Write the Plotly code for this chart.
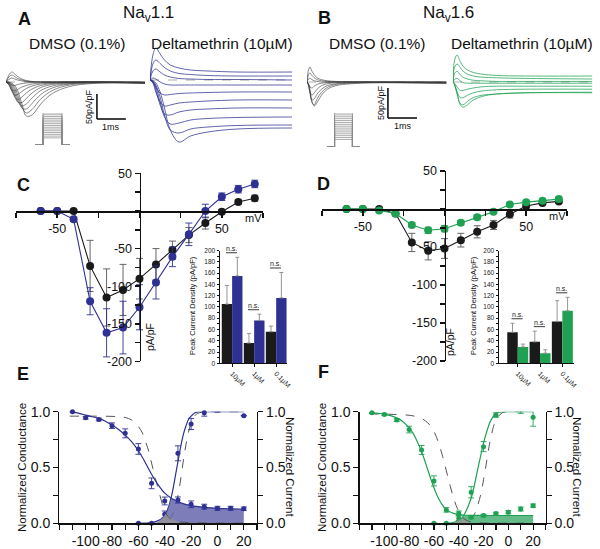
import plotly.graph_objects as go

W, H = 600, 549
FONT = "Liberation Sans, Arial, Helvetica, sans-serif"
BLUE = "#2e3192"
GREEN = "#1fa153"
BLACK = "#1a1a1a"
DASH = "#555555"

# ======================= DATA =======================
# ---- Panel A : Nav1.1 current traces (time ms, current pA/pF)
A_dmso_t = [0, 0.1, 0.2, 0.3, 0.4, 0.55, 0.7, 0.9, 1.2, 1.6, 2.2, 3.0, 4.8]
A_dmso_i = [
    [0, 14, 20, 16, 11, 6, 3, 1, 0, 0, 0, 0, 0],
    [0, 10, 14, 11, 7, 4, 2, 1, 0, 0, 0, 0, 0],
    [0, 5, 8, 6, 4, 2, 1, 0, 0, 0, 0, 0, -1],
    [0, -2, -6, -7, -5, -3, -2, -1, 0, 0, 0, 0, -1],
    [0, -6, -16, -18, -15, -10, -7, -4, -2, -1, 0, 0, -1],
    [0, -5, -18, -26, -25, -19, -13, -8, -4, -2, -1, 0, -1],
    [0, -4, -16, -30, -35, -30, -22, -14, -7, -3, -1, 0, -2],
    [0, -3, -12, -28, -40, -41, -33, -22, -11, -5, -2, -1, -2],
    [0, -2, -9, -22, -38, -48, -44, -32, -17, -8, -3, -1, -2],
    [0, -1, -6, -16, -32, -52, -54, -43, -25, -12, -4, -1, -2],
    [0, -1, -4, -11, -25, -50, -62, -55, -34, -17, -6, -2, -2],
    [0, 0, -2, -7, -17, -44, -68, -66, -44, -23, -9, -3, -2],
]
A_delta_t = [0, 0.1, 0.2, 0.35, 0.5, 0.7, 1.0, 1.4, 2.0, 3.0, 4.9]
A_delta_i = [
    [0, 50, 64, 52, 40, 30, 24, 20, 18, 16, 16],
    [0, 32, 40, 33, 25, 18, 13, 11, 9, 8, 8],
    [0, 18, 22, 16, 10, 6, 3, 2, 1, 1, 0],
    [0, 4, 2, -4, -8, -10, -10, -10, -10, -10, -10],
    [0, -4, -14, -26, -30, -29, -27, -26, -25, -24, -24],
    [0, -6, -24, -44, -52, -50, -46, -44, -42, -40, -40],
    [0, -4, -20, -50, -68, -70, -64, -60, -58, -56, -56],
    [0, -3, -14, -44, -74, -88, -86, -80, -77, -75, -74],
    [0, -2, -10, -34, -70, -100, -106, -98, -94, -91, -90],
    [0, -1, -6, -24, -56, -100, -124, -112, -104, -98, -96],
]
# ---- Panel B : Nav1.6 current traces
B_dmso_t = [0, 0.05, 0.1, 0.17, 0.25, 0.35, 0.5, 0.7, 1.0, 1.5, 2.5, 4.8]
B_dmso_i = [
    [0, 20, 25, 18, 12, 7, 4, 2, 1, 0, 0, 0],
    [0, 12, 15, 11, 7, 4, 2, 1, 0, 0, 0, 0],
    [0, 5, 6, 4, 2, 1, 0, 0, 0, 0, 0, 0],
    [0, -3, -8, -10, -7, -4, -2, -1, 0, 0, 0, -1],
    [0, -5, -16, -22, -18, -12, -6, -3, -1, 0, 0, -1],
    [0, -5, -18, -30, -28, -20, -12, -6, -3, -1, -1, -2],
    [0, -4, -16, -34, -38, -28, -17, -9, -4, -2, -1, -2],
    [0, -3, -12, -32, -40, -34, -22, -12, -6, -3, -1, -2],
]
B_delta_t = [0, 0.05, 0.14, 0.25, 0.35, 0.5, 0.7, 1.0, 1.5, 2.5, 4.8]
B_delta_i = [
    [0, 35, 45, 34, 26, 20, 16, 13, 11, 10, 10],
    [0, 24, 30, 24, 18, 13, 10, 8, 7, 6, 5],
    [0, 14, 18, 12, 8, 5, 3, 2, 1, 1, 1],
    [0, 4, 6, 2, -1, -2, -2, -2, -2, -2, -2],
    [0, -2, -8, -14, -14, -12, -10, -8, -7, -7, -7],
    [0, -4, -16, -26, -26, -22, -18, -15, -13, -12, -12],
    [0, -4, -20, -36, -38, -32, -26, -22, -20, -18, -18],
    [0, -3, -18, -38, -42, -38, -30, -24, -20, -18, -17],
]
# voltage protocol (mV, ms)
proto_hold = -120
proto_steps = [-80, -70, -60, -50, -40, -30, -20, -10, 0, 10, 20, 30, 40, 50, 60]
proto_times = [0, 0.4, 1.35, 1.75]
scale_t, scale_i = 1, 50   # scale bars: 1 ms, 50 pA/pF

# ---- Panels C / D : I-V relations
iv_v = [-60, -50, -40, -30, -20, -10, 0, 10, 20, 30, 40, 50, 60, 70]
C_dmso = [0, 0, 0, -73, -115, -105, -90, -71, -52, -32, -16, -1, 12, 17]
C_dmso_err = [0, 0, 2, 34, 38, 34, 27, 21, 12, 10, 8, 3, 3, 4]
C_delta = [0, 0, -11, -120, -162, -155, -128, -95, -61, -31, 0, 19, 29, 36]
C_delta_err = [0, 0, 3, 18, 32, 35, 30, 22, 13, 15, 9, 5, 5, 5]
D_dmso = [0, 0, 0, -6, -44, -55, -52, -41, -30, -21, -7, 4, 8, 10]
D_dmso_err = [0, 0, 1, 2, 12, 12, 13, 9, 8, 6, 5, 3, 2, 2]
D_delta = [0, 0, -2, -6, -21, -28, -26, -18, -11, -3.5, 6, 9, 11, 13]
D_delta_err = [1, 1, 2, 2, 3, 4, 4, 3, 3, 2, 2, 2, 2, 3]

# insets: peak current density by concentration
conc = ["10µM", "1µM", "0.1µM"]
C_bar_dmso = [105, 36, 56]
C_bar_dmso_err = [33, 17, 10]
C_bar_delta = [155, 76, 116]
C_bar_delta_err = [33, 11, 45]
D_bar_dmso = [55, 38, 74]
D_bar_dmso_err = [16, 19, 37]
D_bar_delta = [29, 18, 93]
D_bar_delta_err = [5, 6, 24]

# ---- Panels E / F : activation & steady-state inactivation
ss_v = [-110, -100, -90, -80, -70, -60, -50, -40, -30, -20, -10, 0, 10, 20]
act_v = [-60, -50, -40, -30, -20, -10, 0, 10, 20]
E_inact = [1.0, 0.946, 0.93, 0.875, 0.806, 0.666, 0.358, 0.2, 0.209, 0.17, 0.149, 0.134, 0.134, 0.131]
E_inact_err = [0.0, 0.012, 0.012, 0.025, 0.04, 0.048, 0.048, 0.035, 0.027, 0.03, 0.022, 0.018, 0.018, 0.015]
E_act = [0.0, 0.0, 0.08, 0.627, 0.89, 0.99, 1.006, 1.02, 0.964]
E_act_err = [0, 0, 0.03, 0.067, 0.05, 0.03, 0.01, 0.01, 0.0]
F_inact = [0.99, 0.976, 0.925, 0.84, 0.657, 0.38, 0.12, 0.09, 0.054, 0.069, 0.087, 0.10, 0.128, 0.158]
F_inact_err = [0.005, 0.01, 0.012, 0.03, 0.04, 0.045, 0.02, 0.02, 0.012, 0.012, 0.012, 0.015, 0.018, 0.015]
F_act = [0.0, 0.0, 0.045, 0.278, 0.687, 0.97, 1.02, 1.015, 0.95]
F_act_err = [0, 0, 0.02, 0.05, 0.045, 0.02, 0.01, 0.03, 0.08]

# fitted curves
E_fi_v = [-112, -105, -100, -95, -90, -85, -80, -75, -70, -65, -60, -55, -50, -45, -40, -35, -30, -25, -20, -10, 0, 10, 20]
E_fi = [1.0, 0.985, 0.97, 0.955, 0.94, 0.915, 0.88, 0.84, 0.79, 0.73, 0.65, 0.55, 0.44, 0.345, 0.27, 0.225, 0.195, 0.172, 0.158, 0.143, 0.134, 0.13, 0.128]
E_ci_v = [-112, -100, -90, -80, -75, -70, -65, -60, -57, -55, -52, -50, -47, -45, -42, -40, -37, -35, -30, -25, -20, 0, 20]
E_ci = [0.96, 0.96, 0.96, 0.958, 0.955, 0.948, 0.925, 0.866, 0.81, 0.746, 0.64, 0.54, 0.40, 0.31, 0.18, 0.11, 0.054, 0.036, 0.015, 0.008, 0.005, 0.002, 0.001]
E_fa_v = [-60, -55, -50, -45, -42, -40, -38, -36, -34, -32, -30, -28, -26, -24, -22, -20, -17, -14, -10, 0, 10, 20]
E_fa = [0.0, 0.002, 0.006, 0.024, 0.045, 0.075, 0.12, 0.19, 0.29, 0.42, 0.55, 0.68, 0.79, 0.87, 0.93, 0.96, 0.99, 1.0, 1.0, 1.0, 1.0, 1.0]
E_ca_v = [-50, -45, -40, -37, -35, -33, -31, -29, -27, -25, -23, -21, -19, -17, -15, -12, -10, 0, 10, 20]
E_ca = [0.0, 0.002, 0.008, 0.03, 0.06, 0.11, 0.19, 0.31, 0.47, 0.63, 0.76, 0.86, 0.93, 0.965, 0.985, 0.995, 1.0, 1.0, 1.0, 1.0]
E_win_v = [-46, -43, -40, -38, -36, -35, -33, -30, -25, -20, -15, -10, 0, 10, 20]
E_win = [0.0, 0.035, 0.075, 0.12, 0.19, 0.22, 0.215, 0.195, 0.172, 0.158, 0.15, 0.143, 0.134, 0.13, 0.128]
E_cwin_v = [-46, -43, -41, -39, -38, -37, -35, -33, -31, -29, -27, -24]
E_cwin = [0.0, 0.03, 0.055, 0.085, 0.085, 0.07, 0.045, 0.03, 0.018, 0.01, 0.005, 0.0]

F_fi_v = [-112, -105, -100, -95, -90, -85, -80, -77, -74, -71, -68, -65, -62, -59, -56, -53, -50, -46, -42, -38, -34, -30, -20, -10, 0, 10, 20]
F_fi = [0.99, 0.985, 0.978, 0.965, 0.945, 0.91, 0.855, 0.81, 0.745, 0.67, 0.58, 0.48, 0.38, 0.29, 0.215, 0.16, 0.125, 0.097, 0.082, 0.075, 0.072, 0.071, 0.07, 0.07, 0.07, 0.07, 0.07]
F_ci_v = [-112, -100, -90, -80, -75, -70, -65, -62, -59, -56, -53, -50, -47, -44, -41, -38, -35, -30, -25, -20, 0, 20]
F_ci = [0.98, 0.978, 0.975, 0.968, 0.958, 0.94, 0.9, 0.86, 0.8, 0.71, 0.6, 0.47, 0.34, 0.22, 0.13, 0.07, 0.035, 0.012, 0.005, 0.002, 0.001, 0.0]
F_fa_v = [-50, -45, -40, -37, -35, -32, -30, -27, -25, -22, -20, -17, -15, -12, -10, -5, 0, 10, 20]
F_fa = [0.0, 0.006, 0.024, 0.054, 0.09, 0.164, 0.224, 0.36, 0.47, 0.62, 0.72, 0.836, 0.9, 0.96, 0.985, 0.998, 1.0, 1.0, 1.0]
F_ca_v = [-45, -40, -35, -30, -27, -25, -22, -20, -18, -15, -12, -10, -5, 0, 10, 20]
F_ca = [0.0, 0.003, 0.012, 0.045, 0.09, 0.15, 0.27, 0.39, 0.52, 0.72, 0.866, 0.925, 0.99, 1.0, 1.0, 1.0]
F_win_v = [-42, -40, -38, -36, -34, -30, -20, -10, 0, 10, 20]
F_win = [0.0, 0.024, 0.045, 0.065, 0.072, 0.072, 0.072, 0.073, 0.074, 0.075, 0.075]
F_cwin_v = [-46, -43, -41, -39, -37, -35, -33, -30]
F_cwin = [0.0, 0.01, 0.02, 0.035, 0.04, 0.035, 0.02, 0.0]

# ======================= HELPERS =======================
def dx(a, b):
    return [a / W, b / W]

def dy(top, bottom):
    return [1 - bottom / H, 1 - top / H]

def ax(i):
    return "" if i == 1 else str(i)

fig = go.Figure()
annotations = []
shapes = []

def ann(text, x, y, size, angle=0, bold=False, color="#111111", xanchor="center", yanchor="middle"):
    annotations.append(dict(text=f"<b>{text}</b>" if bold else text, x=x / W, y=1 - y / H,
                            xref="paper", yref="paper", showarrow=False, textangle=angle,
                            xanchor=xanchor, yanchor=yanchor,
                            font=dict(size=size, family=FONT, color=color)))

def line_trace(x, y, i, color, width=0.8, dash=None, shape="spline", yi=None):
    fig.add_trace(go.Scatter(x=x, y=y, mode="lines", hoverinfo="skip", showlegend=False,
                             line=dict(color=color, width=width, dash=dash, shape=shape),
                             xaxis="x" + ax(i), yaxis="y" + ax(yi if yi else i)))

# ======================= PANELS A / B: traces =======================
for row in A_dmso_i:
    line_trace(A_dmso_t, row, 1, "#3a3a3a", width=0.6)
for row in A_delta_i:
    line_trace(A_delta_t, row, 2, BLUE, width=0.75)
for row in B_dmso_i:
    line_trace(B_dmso_t, row, 4, "#3a3a3a", width=0.6)
for row in B_delta_i:
    line_trace(B_delta_t, row, 5, GREEN, width=0.75)

for i in (3, 6):
    for v in proto_steps:
        line_trace([proto_times[0], proto_times[1], proto_times[1], proto_times[2], proto_times[2], proto_times[3]],
                   [proto_hold, proto_hold, v, v, proto_hold, proto_hold], i, "#8a8a8a", width=0.7, shape="linear")

# dashed baselines
for i, t_end in ((1, A_dmso_t[-1]), (2, A_delta_t[-1]), (4, B_dmso_t[-1]), (5, B_delta_t[-1])):
    shapes.append(dict(type="line", xref="x" + ax(i), yref="y" + ax(i), x0=0, x1=t_end, y0=0, y1=0,
                       line=dict(color="#999999", width=0.8, dash="dash"), layer="below"))

# scale bars
for i, t0, i0 in ((1, 3.14, -74), (4, 2.79, -60)):
    shapes.append(dict(type="line", xref="x" + ax(i), yref="y" + ax(i), x0=t0, x1=t0, y0=i0, y1=i0 + scale_i,
                       line=dict(color="#111111", width=1.6)))
    shapes.append(dict(type="line", xref="x" + ax(i), yref="y" + ax(i), x0=t0, x1=t0 + scale_t, y0=i0, y1=i0,
                       line=dict(color="#111111", width=1.6)))

# ======================= PANELS C / D: IV =======================
def iv(i, vals, errs, color):
    fig.add_trace(go.Scatter(x=iv_v, y=vals, mode="lines+markers", showlegend=False, hoverinfo="skip",
                             line=dict(color=color, width=1.1),
                             marker=dict(color=color, size=8),
                             error_y=dict(type="data", array=errs, color=color if color != BLACK else "#555555",
                                          thickness=0.9, width=3.5),
                             cliponaxis=False, xaxis="x" + ax(i), yaxis="y" + ax(i)))

iv(7, C_dmso, C_dmso_err, BLACK)
iv(7, C_delta, C_delta_err, BLUE)
iv(9, D_dmso, D_dmso_err, BLACK)
iv(9, D_delta, D_delta_err, GREEN)

def bars(i, vals, errs, color):
    fig.add_trace(go.Bar(x=[0, 1, 2], y=vals, marker=dict(color=color, line=dict(width=0)),
                         error_y=dict(type="data", array=errs, arrayminus=[0, 0, 0], symmetric=False,
                                      color="#8a8a8a", thickness=0.9, width=2),
                         showlegend=False, hoverinfo="skip", xaxis="x" + ax(i), yaxis="y" + ax(i)))

bars(8, C_bar_dmso, C_bar_dmso_err, BLACK)
bars(8, C_bar_delta, C_bar_delta_err, BLUE)
bars(10, D_bar_dmso, D_bar_dmso_err, BLACK)
bars(10, D_bar_delta, D_bar_delta_err, GREEN)

for i, a, ae, b, be in ((8, C_bar_dmso, C_bar_dmso_err, C_bar_delta, C_bar_delta_err),
                        (10, D_bar_dmso, D_bar_dmso_err, D_bar_delta, D_bar_delta_err)):
    for k in range(3):
        top = max(a[k] + ae[k], b[k] + be[k]) + 8
        shapes.append(dict(type="line", xref="x" + ax(i), yref="y" + ax(i), x0=k - 0.28, x1=k + 0.22,
                           y0=top, y1=top, line=dict(color="#222222", width=0.9)))
        annotations.append(dict(text="n.s.", x=k - 0.03, y=top, xref="x" + ax(i), yref="y" + ax(i),
                                showarrow=False, yanchor="bottom", yshift=-1,
                                font=dict(size=7, family=FONT, color="#222222")))

# ======================= PANELS E / F =======================
def ef(ix, iyl, iyr, color, fillcol, win_v, win, cwin_v, cwin, fi_v, fi, ci_v, ci, fa_v, fa, ca_v, ca,
       inact, inact_err, act, act_err):
    X = "x" + ax(ix)
    fig.add_trace(go.Scatter(x=win_v, y=win, mode="lines", fill="tozeroy", fillcolor=fillcol,
                             line=dict(width=0), hoverinfo="skip", showlegend=False, xaxis=X, yaxis="y" + ax(iyr)))
    fig.add_trace(go.Scatter(x=cwin_v, y=cwin, mode="lines", fill="tozeroy", fillcolor="rgba(150,150,150,0.8)",
                             line=dict(width=0), hoverinfo="skip", showlegend=False, xaxis=X, yaxis="y" + ax(iyr)))
    line_trace(ci_v, ci, ix, DASH, width=1.0, dash="dash", yi=iyr)
    line_trace(ca_v, ca, ix, DASH, width=1.0, dash="dash", yi=iyl)
    line_trace(fi_v, fi, ix, color, width=1.2, yi=iyr)
    line_trace(fa_v, fa, ix, color, width=1.2, yi=iyl)
    fig.add_trace(go.Scatter(x=ss_v, y=inact, mode="markers", marker=dict(color=color, size=5),
                             error_y=dict(type="data", array=inact_err, color=color, thickness=0.9, width=3),
                             cliponaxis=False, hoverinfo="skip", showlegend=False, xaxis=X, yaxis="y" + ax(iyr)))
    fig.add_trace(go.Scatter(x=act_v, y=act, mode="markers", marker=dict(color=color, size=5),
                             error_y=dict(type="data", array=act_err, color=color, thickness=0.9, width=3),
                             cliponaxis=False, hoverinfo="skip", showlegend=False, xaxis=X, yaxis="y" + ax(iyl)))

ef(11, 11, 12, BLUE, "rgba(96,98,170,0.82)", E_win_v, E_win, E_cwin_v, E_cwin, E_fi_v, E_fi, E_ci_v, E_ci,
   E_fa_v, E_fa, E_ca_v, E_ca, E_inact, E_inact_err, E_act, E_act_err)
ef(12, 13, 14, GREEN, "rgba(60,170,105,0.8)", F_win_v, F_win, F_cwin_v, F_cwin, F_fi_v, F_fi, F_ci_v, F_ci,
   F_fa_v, F_fa, F_ca_v, F_ca, F_inact, F_inact_err, F_act, F_act_err)

# ======================= AXES =======================
layout = {}
def hidden(i, xd, yd, xr, yr):
    layout["xaxis" + ax(i)] = dict(domain=dx(*xd), range=xr, visible=False, anchor="y" + ax(i),
                                   fixedrange=True, automargin=False)
    layout["yaxis" + ax(i)] = dict(domain=dy(*yd), range=yr, visible=False, anchor="x" + ax(i),
                                   fixedrange=True, automargin=False)

hidden(1, (6, 145), (40, 150), [0, 4.8], [-136, 84])
hidden(2, (150, 292), (40, 150), [0, 4.9], [-140, 80])
hidden(3, (35, 70), (113, 145), [0, 1.75], [-120, 60])
hidden(4, (307, 448), (40, 150), [0, 4.86], [-113.3, 70])
hidden(5, (453, 593), (40, 150), [0, 4.83], [-113.3, 70])
hidden(6, (327, 360), (113, 147), [0, 1.75], [-120, 60])

axcol = "#111111"
iv_x_ticks = [-75, -50, -25, 0, 25, 50, 75]
iv_x_text = ["", "-50", "", "", "", "50", ""]
iv_y_ticks = [-200, -175, -150, -125, -100, -75, -50, -25, 0, 25, 50]
iv_y_text = ["-200", "", "-150", "", "-100", "", "-50", "", "", "", "50"]
for i, x0, x1, zx, zy in ((7, 16, 263, 139.5, 211), (9, 322, 567, 444.5, 209)):
    layout["xaxis" + ax(i)] = dict(domain=dx(x0, x1), range=[-75, 75], anchor="free", position=1 - zy / H,
                                   showline=True, linecolor=axcol, linewidth=1.8, ticks="outside", ticklen=5,
                                   tickwidth=1.5, tickcolor=axcol, tickvals=iv_x_ticks, ticktext=iv_x_text,
                                   tickangle=0, automargin=False,
                                   tickfont=dict(size=12.5, family=FONT, color="#111"), showgrid=False,
                                   zeroline=False, fixedrange=True)
    top = zy - 37.6 if i == 7 else zy - 38
    bot = zy + 150.4 if i == 7 else zy + 152
    layout["yaxis" + ax(i)] = dict(domain=dy(top, bot), range=[-200, 50], anchor="free", position=zx / W,
                                   showline=True, linecolor=axcol, linewidth=1.8, ticks="outside", ticklen=5,
                                   tickwidth=1.5, tickcolor=axcol, tickvals=iv_y_ticks, ticktext=iv_y_text,
                                   tickangle=0, automargin=False,
                                   tickfont=dict(size=12.5, family=FONT, color="#111"), showgrid=False,
                                   zeroline=False, fixedrange=True)

bar_ticks = list(range(0, 201, 10))
bar_text = [str(v) if v % 20 == 0 else "" for v in bar_ticks]
for i, xd, xr in ((8, (220, 287.2), [-0.55, 2.5]), (10, (499, 573.5), [-0.84, 2.5])):
    layout["xaxis" + ax(i)] = dict(domain=dx(*xd), range=xr, anchor="y" + ax(i), showline=True, linecolor=axcol,
                                   linewidth=1, ticks="outside", ticklen=2.5, tickcolor=axcol, tickvals=[0, 1, 2],
                                   ticktext=conc, tickangle=45, automargin=False,
                                   tickfont=dict(size=7, family=FONT, color="#222"),
                                   showgrid=False, zeroline=False, fixedrange=True)
    layout["yaxis" + ax(i)] = dict(domain=dy(250.5, 363.3), range=[0, 200], anchor="x" + ax(i), showline=True,
                                   linecolor=axcol, linewidth=1, ticks="outside", ticklen=2.5, tickcolor=axcol,
                                   tickvals=bar_ticks, ticktext=bar_text, tickangle=0, automargin=False,
                                   tickfont=dict(size=6.5, family=FONT, color="#222"),
                                   showgrid=False, zeroline=False, fixedrange=True)

ef_x_ticks = list(range(-120, 31, 10))
ef_x_text = [str(v) if v in (-100, -80, -60, -40, -20, 0, 20) else "" for v in ef_x_ticks]
ef_y_ticks = [0, 0.25, 0.5, 0.75, 1.0]
ef_y_text = ["0.0", "", "0.5", "", "1.0"]
for ix, iyl, iyr, xd in ((11, 11, 12, (59.3, 257)), (12, 13, 14, (359.6, 545.5))):
    layout["xaxis" + ax(ix)] = dict(domain=dx(*xd), range=[-120, 30], anchor="y" + ax(iyl), showline=True,
                                    linecolor=axcol, linewidth=1.3, ticks="outside", ticklen=5, tickwidth=1.2,
                                    tickcolor=axcol, tickvals=ef_x_ticks, ticktext=ef_x_text,
                                    tickangle=0, automargin=False,
                                    tickfont=dict(size=14, family=FONT, color="#111"), showgrid=False,
                                    zeroline=False, fixedrange=True)
    common = dict(range=[0, 1.0], showline=True, linecolor=axcol, linewidth=1.3, ticks="outside", ticklen=5,
                  tickwidth=1.2, tickcolor=axcol, tickvals=ef_y_ticks, ticktext=ef_y_text,
                  tickangle=0, automargin=False,
                  tickfont=dict(size=14, family=FONT, color="#111"), showgrid=False, zeroline=False,
                  fixedrange=True)
    layout["yaxis" + ax(iyl)] = dict(domain=dy(411.7, 523.3), anchor="x" + ax(ix), side="left", **common)
    layout["yaxis" + ax(iyr)] = dict(overlaying="y" + ax(iyl), anchor="x" + ax(ix), side="right", **common)

# ======================= TEXT =======================
ann("A", 24, 19, 18, bold=True)
ann("B", 324, 18, 18, bold=True)
ann("C", 23, 185, 18, bold=True)
ann("D", 323, 184, 18, bold=True)
ann("E", 23, 374, 18, bold=True)
ann("F", 323, 372, 18, bold=True)
ann("Na<sub>v</sub>1.1", 148, 14, 17)
ann("Na<sub>v</sub>1.6", 448, 14, 17)
ann("DMSO (0.1%)", 77, 43, 15.5)
ann("Deltamethrin (10µM)", 222, 43, 15.5)
ann("DMSO (0.1%)", 377, 43, 15.5)
ann("Deltamethrin (10µM)", 522, 43, 15.5)
ann("50pA/pF", 89, 107, 9, angle=-90)
ann("1ms", 111, 127, 9)
ann("50pA/pF", 381, 103, 9, angle=-90)
ann("1ms", 403, 126, 9)
ann("mV", 253, 218, 11)
ann("mV", 557, 216, 11)
ann("pA/pF", 150, 337, 10.5, angle=-90)
ann("pA/pF", 450, 342, 10.5, angle=-90)
ann("Peak Current Density (pA/pF)", 192, 306, 7.5, angle=-90)
ann("Peak Current Density (pA/pF)", 473, 306, 7.5, angle=-90)
ann("Normalized Conductance", 22, 468, 11.5, angle=-90)
ann("Normalized Current", 290, 467, 11.5, angle=90)
ann("Normalized Conductance", 322, 468, 11.5, angle=-90)
ann("Normalized Current", 577, 467, 11.5, angle=90)

fig.update_layout(
    width=W, height=H, margin=dict(l=0, r=0, t=0, b=0, autoexpand=False),
    paper_bgcolor="white", plot_bgcolor="rgba(0,0,0,0)",
    barmode="group", bargap=0.06, bargroupgap=0,
    showlegend=False, annotations=annotations, shapes=shapes,
    font=dict(family=FONT, color="#111"),
    **layout,
)
fig.write_html("out.html", config={"displayModeBar": False, "staticPlot": True},
               post_script="document.body.style.margin='0px';document.body.style.overflow='hidden';")
